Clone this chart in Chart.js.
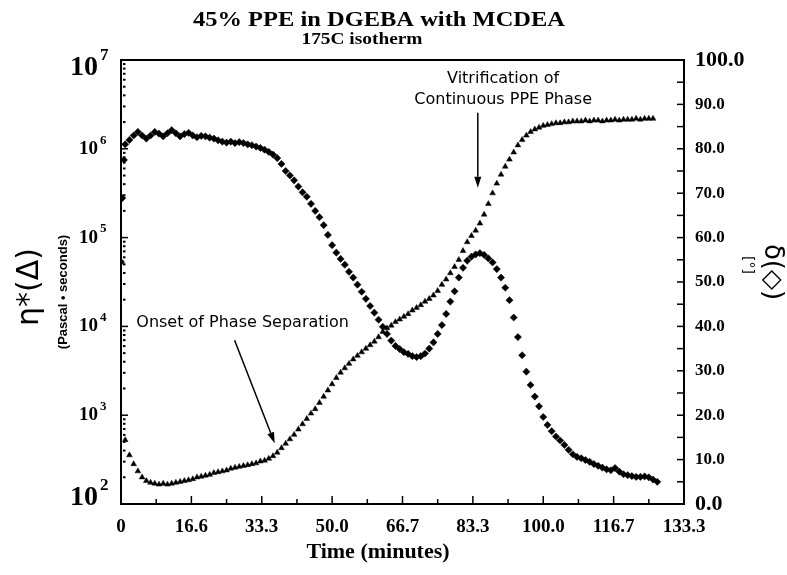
<!DOCTYPE html>
<html><head><meta charset="utf-8">
<script src="https://cdn.jsdelivr.net/npm/chart.js@4/dist/chart.umd.min.js"></script>
<style>html,body{margin:0;padding:0;background:#fff}#wrap{width:787px;height:575px;position:relative}</style>
</head><body><div id="wrap"><canvas id="c" width="787" height="575"></canvas></div>
<script>
// ---------- DATA ----------
const chartTitle = '45% PPE in DGEBA with MCDEA';
const chartSubtitle = '175C isotherm';
const xAxisTitle = 'Time (minutes)';
const xTickValues = [0, 16.667, 33.333, 50, 66.667, 83.333, 100, 116.667, 133.333];
const xTickLabels = ['0', '16.6', '33.3', '50.0', '66.7', '83.3', '100.0', '116.7', '133.3'];
const leftTickExponents = [2, 3, 4, 5, 6, 7];
const rightTickValues = [0, 10, 20, 30, 40, 50, 60, 70, 80, 90, 100];

// complex viscosity eta* (Pa*s), triangles, left log axis
const etaMinutes = [1,2,3,4,5,6,7,8,9,10,11,12,13,14,15,16,17,18,19,20,21,22,23,24,25,26,27,28,29,30,
  31,32,33,34,35,36,37,38,39,40,41,42,43,44,45,46,47,48,49,50,51,52,53,54,55,56,57,58,59,60,
  61,62,63,64,65,66,67,68,69,70,71,72,73,74,75,76,77,78,79,80,81,82,83,84,85,86,87,88,89,90,
  91,92,93,94,95,96,97,98,99,100,101,102,103,104,105,106,107,108,109,110,111,112,113,114,115,116,117,118,119,120,
  121,122,123,124,125,126];
const etaValues = [525,355,282,234,200,182,174,170,166,170,166,170,174,178,182,186,191,200,204,209,
  214,224,229,234,240,251,257,263,269,275,282,288,302,309,324,347,380,427,479,537,
  603,692,794,912,1047,1175,1380,1622,1905,2239,2630,3020,3388,3802,4266,4677,5129,5623,6166,6761,
  7586,8710,9550,10230,11220,12020,12880,13800,15140,16220,17380,19050,20420,22390,25120,29510,33880,39810,46770,56230,
  70790,89130,104700,120200,144500,182000,239900,316200,407400,512900,631000,758600,912000,1096000,1259000,1413000,1549000,1660000,1738000,1820000,
  1862000,1905000,1950000,1950000,1995000,1995000,2042000,2042000,2042000,2089000,2042000,2089000,2089000,2042000,2089000,2089000,2138000,2089000,2138000,2138000,
  2138000,2188000,2138000,2188000,2188000,2188000];

// phase angle delta (degrees), diamonds, right axis
const deltaMinutes = [0,0.3,0.7,1,2,3,4,5,6,7,8,9,10,11,12,13,14,15,16,17,18,19,20,21,22,23,24,25,26,27,28,29,30,
  31,32,33,34,35,36,37,38,39,40,41,42,43,44,45,46,47,48,49,50,51,52,53,54,55,56,57,58,59,60,
  61,62,63,64,65,66,67,68,69,70,71,72,73,74,75,76,77,78,79,80,81,82,83,84,85,86,87,88,89,90,
  91,92,93,94,95,96,97,98,99,100,101,102,103,104,105,106,107,108,109,110,111,112,113,114,115,116,117,118,119,120,
  121,122,123,124,125,126,127];
const deltaValues = [54.5,68.9,77.5,81.0,82.0,83.0,83.8,83.0,82.3,83.0,83.8,83.4,82.8,83.5,84.2,83.5,82.8,83.3,83.6,83.0,82.6,82.9,82.8,82.5,82.3,81.9,81.6,81.4,81.6,81.3,81.5,81.3,81.0,
  80.8,80.5,80.2,79.8,79.3,78.7,77.9,76.6,75.0,74.0,72.9,71.5,70.2,69.2,67.6,66.0,64.6,62.8,60.6,58.3,
  56.6,55.2,53.9,52.3,51.0,49.4,47.8,46.2,44.6,43.1,41.5,39.9,38.3,36.8,35.6,34.9,34.2,33.8,33.3,33.1,
  33.3,33.9,35.0,36.4,38.3,40.3,42.8,45.6,47.9,51.0,53.2,54.8,55.7,56.2,56.5,56.1,55.3,54.4,52.9,51.0,
  48.7,45.9,42.0,37.6,33.5,29.8,26.8,24.2,22.0,19.6,17.8,16.4,15.2,14.3,13.3,12.2,11.2,10.6,10.3,9.9,
  9.5,9.0,8.6,8.2,7.8,7.6,8.1,7.3,6.7,6.5,6.3,6.1,6.1,6.2,6.0,5.5,5.0];

// annotations (text lines and arrows placed in data units: x in minutes, y on the right axis)
const annotationTexts = [
  {text: 'Vitrification of', x: 90.5, y: 95.7},
  {text: 'Continuous PPE Phase', x: 90.5, y: 91.0},
  {text: 'Onset of Phase Separation', x: 28.8, y: 40.8}
];
const annotationArrows = [
  {x1: 84.5, y1: 88.1, x2: 84.5, y2: 71.2},
  {x1: 26.9, y1: 36.9, x2: 36.4, y2: 13.7}
];

// ---------- STYLE ----------
const SERIF = "'Liberation Serif','Times New Roman',serif";
const SANS = "'DejaVu Sans',sans-serif";

// draw text centred at (cx, cy), stretched horizontally to targetWidth when given
function fitText(ctx, text, cx, cy, font, targetWidth) {
  ctx.save();
  ctx.font = font;
  ctx.textAlign = 'center';
  ctx.textBaseline = 'middle';
  const w = ctx.measureText(text).width;
  const sx = targetWidth ? targetWidth / w : 1;
  ctx.translate(cx, cy);
  ctx.scale(sx, 1);
  ctx.fillText(text, 0, 0);
  ctx.restore();
}

function arrow(ctx, x1, y1, x2, y2) {
  const ang = Math.atan2(y2 - y1, x2 - x1);
  const hl = 11, hw = 3.5;
  const bx = x2 - hl * Math.cos(ang), by = y2 - hl * Math.sin(ang);
  ctx.beginPath(); ctx.moveTo(x1, y1); ctx.lineTo(bx, by); ctx.lineWidth = 1.5; ctx.stroke();
  ctx.beginPath();
  ctx.moveTo(x2, y2);
  ctx.lineTo(bx + hw * Math.sin(ang), by - hw * Math.cos(ang));
  ctx.lineTo(bx - hw * Math.sin(ang), by + hw * Math.cos(ang));
  ctx.closePath(); ctx.fill();
}

const framePlugin = {
  id: 'frame',
  afterDraw(chart) {
    const {ctx, chartArea: a, scales: {x, yL, yR}} = chart;
    ctx.save();
    ctx.fillStyle = '#000'; ctx.strokeStyle = '#000';
    // frame
    ctx.lineWidth = 2;
    ctx.strokeRect(a.left, a.top, a.right - a.left, a.bottom - a.top);
    // bottom ticks (inward)
    ctx.lineWidth = 1.5;
    for (let i = 0; i < xTickValues.length - 1; i++) {
      const v0 = xTickValues[i], v1 = xTickValues[i + 1];
      const px = x.getPixelForValue(v0), pm = x.getPixelForValue((v0 + v1) / 2);
      if (i > 0) { ctx.beginPath(); ctx.moveTo(px, a.bottom); ctx.lineTo(px, a.bottom - 8); ctx.stroke(); }
      ctx.beginPath(); ctx.moveTo(pm, a.bottom); ctx.lineTo(pm, a.bottom - 5); ctx.stroke();
    }
    // right ticks (inward, every 5)
    for (let v = 5; v < 100; v += 5) {
      const py = yR.getPixelForValue(v);
      ctx.beginPath(); ctx.moveTo(a.right, py); ctx.lineTo(a.right - 7, py); ctx.stroke();
    }
    // left decade + minor ticks
    leftTickExponents.forEach(e => {
      const py = yL.getPixelForValue(Math.pow(10, e));
      if (e > 2 && e < 7) { ctx.beginPath(); ctx.moveTo(a.left, py); ctx.lineTo(a.left + 7, py); ctx.stroke(); }
      if (e < 7) {
        for (let m = 2; m <= 9; m++) {
          const pm = yL.getPixelForValue(m * Math.pow(10, e));
          ctx.fillRect(a.left + 2, pm - 1, 2.5, 2);
        }
      }
      // label 10^e
      const big = (e === 7 || e === 2);
      const base = big ? 28 : 19, sup = big ? 17 : 13;
      ctx.textAlign = 'right'; ctx.textBaseline = 'middle';
      ctx.font = `bold ${base}px ${SERIF}`;
      const ly = py + (e === 7 ? 8 : (e === 2 ? -6 : 0));
      ctx.fillText('10', 98, ly);
      ctx.textAlign = 'left';
      ctx.font = `bold ${sup}px ${SERIF}`;
      ctx.fillText(String(e), 100, ly - base * 0.45);
    });
    // titles
    ctx.fillStyle = '#000';
    fitText(ctx, chartTitle, 379, 20, `bold 22px ${SERIF}`, 372);
    fitText(ctx, chartSubtitle, 362, 40, `bold 16px ${SERIF}`, 121);
    fitText(ctx, xAxisTitle, 378, 552, `bold 22px ${SERIF}`, null);
    // left axis title
    ctx.save(); ctx.translate(30, 287); ctx.rotate(-Math.PI / 2);
    ctx.font = `30px ${SANS}`; ctx.textAlign = 'center'; ctx.textBaseline = 'middle';
    ctx.fillText('η*(Δ)', 0, 0); ctx.restore();
    ctx.save(); ctx.translate(63, 292); ctx.rotate(-Math.PI / 2);
    ctx.font = `bold 13px 'Liberation Sans',sans-serif`; ctx.textAlign = 'center'; ctx.textBaseline = 'middle';
    ctx.fillText('(Pascal • seconds)', 0, 0); ctx.restore();
    // right axis title
    ctx.save(); ctx.translate(772, 272); ctx.rotate(Math.PI / 2);
    ctx.font = `26px ${SANS}`; ctx.textAlign = 'center'; ctx.textBaseline = 'middle';
    ctx.fillText('δ(◇)', 0, 0); ctx.restore();
    ctx.save(); ctx.translate(748, 265); ctx.rotate(Math.PI / 2);
    ctx.font = `14px ${SANS}`; ctx.textAlign = 'center'; ctx.textBaseline = 'middle';
    ctx.fillText('[°]', 0, 0); ctx.restore();
    // annotations
    annotationTexts.forEach(t => {
      ctx.font = `16px ${SANS}`; ctx.textAlign = 'center'; ctx.textBaseline = 'middle';
      ctx.fillText(t.text, x.getPixelForValue(t.x), yR.getPixelForValue(t.y));
    });
    annotationArrows.forEach(r => arrow(ctx, x.getPixelForValue(r.x1), yR.getPixelForValue(r.y1),
      x.getPixelForValue(r.x2), yR.getPixelForValue(r.y2)));
    ctx.restore();
  }
};

new Chart(document.getElementById('c'), {
  type: 'scatter',
  data: {
    datasets: [
      {
        label: 'η*', yAxisID: 'yL',
        data: etaMinutes.map((t, i) => ({x: t, y: etaValues[i]})),
        pointStyle: 'triangle', pointRadius: 3.3, borderWidth: 0.5,
        backgroundColor: '#000', borderColor: '#000', showLine: false
      },
      {
        label: 'δ', yAxisID: 'yR',
        data: deltaMinutes.map((t, i) => ({x: t, y: deltaValues[i]})),
        pointStyle: 'rectRot', pointRadius: 3.6, borderWidth: 0.5,
        backgroundColor: '#000', borderColor: '#000', showLine: false
      }
    ]
  },
  options: {
    responsive: false, animation: false,
    layout: {padding: {top: 60, left: 0, right: 0, bottom: 0}},
    plugins: {legend: {display: false}, tooltip: {enabled: false}, title: {display: false}},
    scales: {
      x: {
        type: 'linear', position: 'bottom', min: 0, max: 133.333,
        grid: {display: false, drawTicks: false}, border: {display: false},
        afterBuildTicks: s => { s.ticks = xTickValues.map(v => ({value: v})); },
        afterFit: s => { s.height = 71; },
        ticks: {
          autoSkip: false, maxRotation: 0, padding: 12, color: '#000',
          font: {family: SERIF, size: 19, weight: 'bold'},
          callback: (v, i) => xTickLabels[i]
        }
      },
      yL: {
        type: 'logarithmic', position: 'left', min: 100, max: 1e7,
        grid: {display: false, drawTicks: false}, border: {display: false},
        ticks: {display: false},
        afterFit: s => { s.width = 121; }
      },
      yR: {
        type: 'linear', position: 'right', min: 0, max: 100,
        grid: {display: false, drawTicks: false}, border: {display: false},
        afterBuildTicks: s => { s.ticks = rightTickValues.map(v => ({value: v})); },
        afterFit: s => { s.width = 103; },
        ticks: {
          padding: 11, crossAlign: 'near', color: '#000',
          font: c => ({family: SERIF, weight: 'bold',
            size: (c.tick && (c.tick.value === 0 || c.tick.value === 100)) ? 22 : 17}),
          callback: v => Number(v).toFixed(1)
        }
      }
    }
  },
  plugins: [framePlugin]
});
</script>
</body></html>
